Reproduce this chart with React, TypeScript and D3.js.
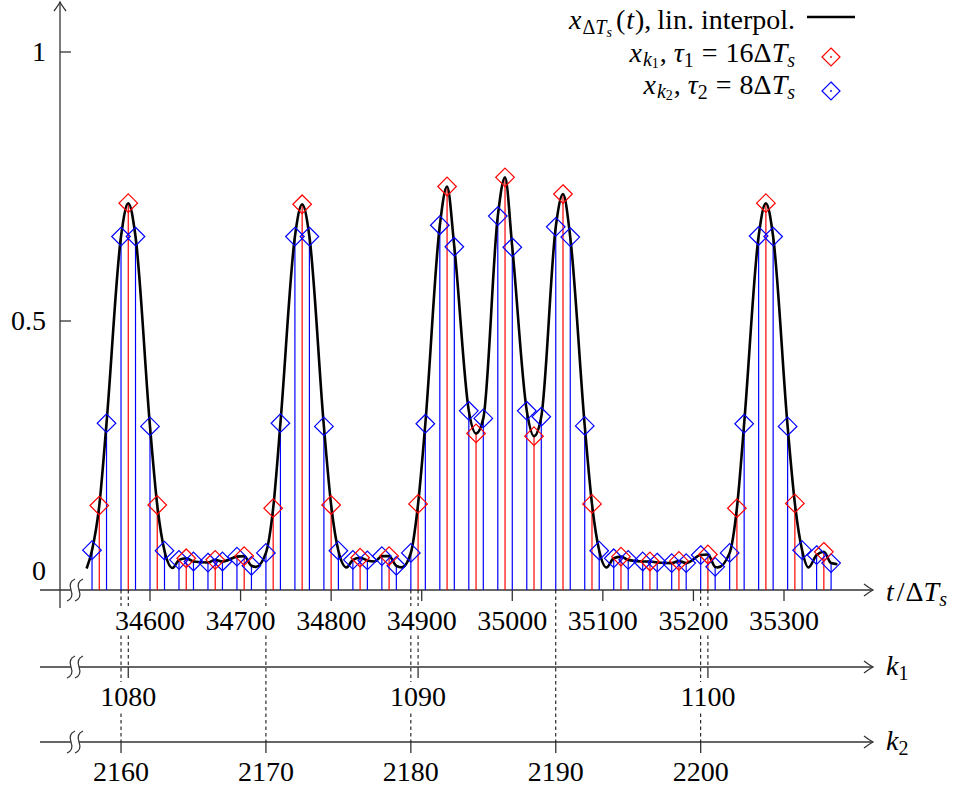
import React from 'react';
import * as d3 from 'd3';

// ---------- data ----------
const tau1 = 16;
const tau2 = 8;
const k1Start = 1079;
const k1Values = [0.157, 0.719, 0.158, 0.059, 0.056, 0.063, 0.152, 0.717, 0.158, 0.060, 0.063, 0.160, 0.750, 0.291, 0.767, 0.286, 0.736, 0.160, 0.062, 0.053, 0.054, 0.066, 0.152, 0.719, 0.161, 0.071];
const k2Start = 2158;
const k2Values = [
  0.074, 0.310, 0.657, 0.657, 0.304, 0.073,
  0.056, 0.053, 0.051, 0.053, 0.062, 0.045, 0.069,
  0.310, 0.657, 0.657, 0.304, 0.073,
  0.056, 0.055, 0.063, 0.045, 0.069,
  0.309, 0.678, 0.638, 0.333, 0.319, 0.695, 0.637, 0.333, 0.322, 0.675, 0.656, 0.305, 0.073,
  0.059, 0.056, 0.053, 0.051, 0.050, 0.050, 0.065, 0.043, 0.069,
  0.309, 0.658, 0.657, 0.304, 0.074, 0.065, 0.050,
];
// extra points of the continuous signal between samples (ringing minima, ends)
const curveExtraT = [34530, 34625, 34717, 34817, 34848, 34878, 35104, 35227, 35327, 35359];
const curveExtraV = [0.040, 0.041, 0.043, 0.042, 0.053, 0.042, 0.042, 0.042, 0.042, 0.048];

const tTicks = [34600, 34700, 34800, 34900, 35000, 35100, 35200, 35300];
const yTicks = [0, 0.5, 1];
const yTickLabels = ['0', '0.5', '1'];
const k1Ticks = [1080, 1090, 1100];
const k2Ticks = [2160, 2170, 2180, 2190, 2200];

// ---------- layout ----------
const W = 957, H = 789;
const xAxisY = 590, k1AxisY = 667, k2AxisY = 742;
const axisLeft = 40, axisRight = 873, yAxisX = 60;
const FONT = '"Liberation Serif", "Times New Roman", serif';
const RED = '#ff0000', BLUE = '#0000ff', AX = '#333';

const x = d3.scaleLinear().domain([34600, 35300]).range([150, 784]);
const y = d3.scaleLinear().domain([0, 1]).range([xAxisY, 52]);
const tOfK = (k: number, tau: number) => (2 * k + 1) * tau;

const redPts = k1Values.map((v, i) => ({ k: k1Start + i, t: tOfK(k1Start + i, tau1), v }));
const bluePts = k2Values.map((v, i) => ({ k: k2Start + i, t: tOfK(k2Start + i, tau2), v }));
const curvePts = [
  ...redPts.map(p => [p.t, p.v]),
  ...bluePts.map(p => [p.t, p.v]),
  ...curveExtraT.map((t, i) => [t, curveExtraV[i]]),
].sort((a, b) => a[0] - b[0]) as [number, number][];

const line = d3.line<[number, number]>().x(d => x(d[0])).y(d => y(d[1])).curve(d3.curveMonotoneX);

const diamond = (r: number) => `M0,${-r}L${r},0L0,${r}L${-r},0Z`;

function Arrow({ x0, y0, dir }: { x0: number; y0: number; dir: 'right' | 'up' }) {
  const rot = dir === 'right' ? 0 : -90;
  return (
    <path
      transform={`translate(${x0},${y0}) rotate(${rot})`}
      d="M-9,-6 Q-3,-1.5 0,0 Q-3,1.5 -9,6"
      fill="none"
      stroke={AX}
      strokeWidth={1.3}
    />
  );
}

function Break({ cy }: { cy: number }) {
  const xs = [71, 79];
  const s = (cx: number) => `M${cx - 4},${cy + 11} Q${cx + 3},${cy + 8} ${cx},${cy} T${cx + 4},${cy - 11}`;
  return (
    <g>
      <rect x={xs[0]} y={cy - 2} width={xs[1] - xs[0]} height={4} fill="#fff" />
      {xs.map(cx => (
        <path key={cx} d={s(cx)} fill="none" stroke={AX} strokeWidth={1.2} />
      ))}
    </g>
  );
}

function BoxedLabel({ cx, baseline, text }: { cx: number; baseline: number; text: string }) {
  const w = text.length * 14 + 8;
  return (
    <g>
      <rect x={cx - w / 2} y={baseline - 24} width={w} height={29} fill="#fff" />
      <text x={cx} y={baseline} textAnchor="middle" fontSize={28} fontFamily={FONT} fill="#000">
        {text}
      </text>
    </g>
  );
}

export default function App() {
  return (
    <svg width={W} height={H} style={{ position: 'absolute', left: 0, top: 0, background: '#fff' }}>
      {/* horizontal axes */}
      {[xAxisY, k1AxisY, k2AxisY].map(ay => (
        <g key={ay}>
          <line x1={axisLeft} x2={axisRight} y1={ay} y2={ay} stroke={AX} strokeWidth={1.3} />
          <Arrow x0={axisRight} y0={ay} dir="right" />
        </g>
      ))}
      {/* y axis */}
      <line x1={yAxisX} x2={yAxisX} y1={608} y2={2} stroke={AX} strokeWidth={1.3} />
      <Arrow x0={yAxisX} y0={2} dir="up" />
      {yTicks.map((v, i) => (
        <g key={v}>
          {v !== 0 && <line x1={yAxisX} x2={yAxisX + 11} y1={y(v)} y2={y(v)} stroke={AX} strokeWidth={1.3} />}
          <text
            x={46}
            y={v === 0 ? 580 : y(v) + 9}
            textAnchor="end"
            fontSize={28}
            fontFamily={FONT}
          >
            {yTickLabels[i]}
          </text>
        </g>
      ))}
      {[xAxisY, k1AxisY, k2AxisY].map(ay => (
        <Break key={'b' + ay} cy={ay} />
      ))}

      {/* dashed correspondence lines */}
      {k1Ticks.map(k => (
        <line key={'d1' + k} x1={x(tOfK(k, tau1))} x2={x(tOfK(k, tau1))} y1={xAxisY} y2={k1AxisY} stroke="#000" strokeWidth={1} strokeDasharray="3.5,3" />
      ))}
      {k2Ticks.map(k => (
        <line key={'d2' + k} x1={x(tOfK(k, tau2))} x2={x(tOfK(k, tau2))} y1={xAxisY} y2={k2AxisY} stroke="#000" strokeWidth={1} strokeDasharray="3.5,3" />
      ))}

      {/* t ticks */}
      {tTicks.map(t => (
        <g key={'t' + t}>
          <line x1={x(t)} x2={x(t)} y1={xAxisY} y2={xAxisY + 11} stroke={AX} strokeWidth={1.3} />
          <BoxedLabel cx={x(t)} baseline={630} text={String(t)} />
        </g>
      ))}
      {k1Ticks.map(k => (
        <g key={'k1' + k}>
          <line x1={x(tOfK(k, tau1))} x2={x(tOfK(k, tau1))} y1={k1AxisY} y2={k1AxisY + 11} stroke={AX} strokeWidth={1.3} />
          <BoxedLabel cx={x(tOfK(k, tau1))} baseline={706} text={String(k)} />
        </g>
      ))}
      {k2Ticks.map(k => (
        <g key={'k2' + k}>
          <line x1={x(tOfK(k, tau2))} x2={x(tOfK(k, tau2))} y1={k2AxisY} y2={k2AxisY + 11} stroke={AX} strokeWidth={1.3} />
          <BoxedLabel cx={x(tOfK(k, tau2))} baseline={781} text={String(k)} />
        </g>
      ))}

      {/* axis labels */}
      <text x={886} y={601} fontSize={28} fontFamily={FONT}>
        <tspan fontStyle="italic">t</tspan>
        <tspan dx={3}>/</tspan>
        <tspan dx={1}>Δ</tspan>
        <tspan fontStyle="italic">T</tspan>
        <tspan fontStyle="italic" fontSize={20} dy={5}>s</tspan>
      </text>
      <text x={886} y={675} fontSize={28} fontFamily={FONT}>
        <tspan fontStyle="italic">k</tspan>
        <tspan fontSize={20} dy={5}>1</tspan>
      </text>
      <text x={886} y={750} fontSize={28} fontFamily={FONT}>
        <tspan fontStyle="italic">k</tspan>
        <tspan fontSize={20} dy={5}>2</tspan>
      </text>

      {/* stems */}
      {bluePts.map(p => (
        <line key={'bs' + p.k} x1={x(p.t)} x2={x(p.t)} y1={y(0)} y2={y(p.v)} stroke={BLUE} strokeWidth={1.2} />
      ))}
      {redPts.map(p => (
        <line key={'rs' + p.k} x1={x(p.t)} x2={x(p.t)} y1={y(0)} y2={y(p.v)} stroke={RED} strokeWidth={1.2} />
      ))}

      {/* continuous signal */}
      <path d={line(curvePts) || ''} fill="none" stroke="#000" strokeWidth={2.6} strokeLinejoin="round" />

      {/* markers */}
      {bluePts.map(p => (
        <path key={'bm' + p.k} transform={`translate(${x(p.t)},${y(p.v)})`} d={diamond(9.3)} fill="none" stroke={BLUE} strokeWidth={1.2} />
      ))}
      {redPts.map(p => (
        <path key={'rm' + p.k} transform={`translate(${x(p.t)},${y(p.v)})`} d={diamond(9.3)} fill="none" stroke={RED} strokeWidth={1.2} />
      ))}

      {/* legend */}
      <text x={795} y={29} textAnchor="end" fontSize={28} fontFamily={FONT}>
        <tspan fontStyle="italic">x</tspan>
        <tspan fontSize={20} dy={5} dx={1}>Δ</tspan>
        <tspan fontSize={20} fontStyle="italic">T</tspan>
        <tspan fontSize={14} fontStyle="italic" dy={3}>s</tspan>
        <tspan dy={-8} dx={4}>(</tspan>
        <tspan fontStyle="italic" dx={1}>t</tspan>
        <tspan dx={1}>),</tspan>
        <tspan dx={6}>lin. interpol.</tspan>
      </text>
      <line x1={807} x2={855} y1={17} y2={17} stroke="#000" strokeWidth={2.6} />

      <text x={795} y={62} textAnchor="end" fontSize={28} fontFamily={FONT}>
        <tspan fontStyle="italic">x</tspan>
        <tspan fontSize={20} fontStyle="italic" dy={4} dx={1}>k</tspan>
        <tspan fontSize={14} dy={2}>1</tspan>
        <tspan dy={-6} dx={1}>,</tspan>
        <tspan fontStyle="italic" dx={7}>τ</tspan>
        <tspan fontSize={20} dy={5}>1</tspan>
        <tspan dy={-5} dx={8}>=</tspan>
        <tspan dx={8}>16Δ</tspan>
        <tspan fontStyle="italic">T</tspan>
        <tspan fontSize={20} fontStyle="italic" dy={5}>s</tspan>
      </text>
      <path transform="translate(831,57)" d={diamond(9)} fill="none" stroke={RED} strokeWidth={1.2} />
      <circle cx={831} cy={57} r={0.9} fill={RED} />

      <text x={795} y={94} textAnchor="end" fontSize={28} fontFamily={FONT}>
        <tspan fontStyle="italic">x</tspan>
        <tspan fontSize={20} fontStyle="italic" dy={4} dx={1}>k</tspan>
        <tspan fontSize={14} dy={2}>2</tspan>
        <tspan dy={-6} dx={1}>,</tspan>
        <tspan fontStyle="italic" dx={7}>τ</tspan>
        <tspan fontSize={20} dy={5}>2</tspan>
        <tspan dy={-5} dx={8}>=</tspan>
        <tspan dx={8}>8Δ</tspan>
        <tspan fontStyle="italic">T</tspan>
        <tspan fontSize={20} fontStyle="italic" dy={5}>s</tspan>
      </text>
      <path transform="translate(831,91)" d={diamond(9)} fill="none" stroke={BLUE} strokeWidth={1.2} />
      <circle cx={831} cy={91} r={0.9} fill={BLUE} />
    </svg>
  );
}
